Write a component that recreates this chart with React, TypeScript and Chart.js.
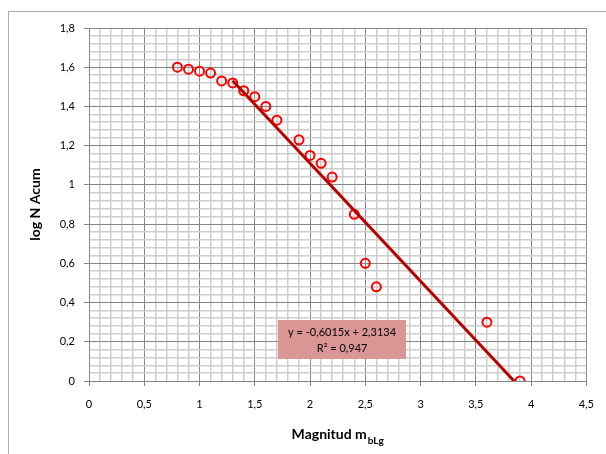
import React, { useEffect, useRef } from "react";
import { Chart, registerables } from "chart.js";

Chart.register(...registerables);

// ---- data ----
const MAGNITUDE = [0.8, 0.9, 1.0, 1.1, 1.2, 1.3, 1.4, 1.5, 1.6, 1.7, 1.9, 2.0, 2.1, 2.2, 2.4, 2.5, 2.6, 3.6, 3.9];
const LOG_N_ACUM = [1.6, 1.59, 1.58, 1.57, 1.53, 1.52, 1.48, 1.45, 1.4, 1.33, 1.23, 1.15, 1.11, 1.04, 0.85, 0.6, 0.48, 0.3, 0.0];

const TREND_SLOPE = -0.6015;
const TREND_INTERCEPT = 2.3134;
const TREND_FROM = 1.3;
const TREND_TO = 3.9;
const TREND_LABEL_LINES = ["y = -0,6015x + 2,3134", "R² = 0,947"];
const TREND_LABEL_AT = { x: 2.29, y: 0.21 };

const X_MAJOR_TICKS = [0, 0.5, 1, 1.5, 2, 2.5, 3, 3.5, 4, 4.5];
const X_TICK_LABELS = ["0", "0,5", "1", "1,5", "2", "2,5", "3", "3,5", "4", "4,5"];
const Y_MAJOR_TICKS = [0, 0.2, 0.4, 0.6, 0.8, 1, 1.2, 1.4, 1.6, 1.8];
const Y_TICK_LABELS = ["0", "0,2", "0,4", "0,6", "0,8", "1", "1,2", "1,4", "1,6", "1,8"];
const X_MINOR_STEP = 0.1;
const Y_MINOR_STEP = 0.04;

const X_TITLE = "Magnitud m";
const X_TITLE_SUB = "bLg";
const Y_TITLE = "log N Acum";

const FONT = "Lato, 'Liberation Sans', sans-serif";
const MAJOR_GRID = "#878787";
const MINOR_GRID = "#cdcdcd";

function majorIndex(v: number, majors: number[]) {
  return majors.findIndex((m) => Math.abs(m - v) < 1e-6);
}

function buildTicks(min: number, max: number, step: number) {
  const n = Math.round((max - min) / step);
  const out: { value: number }[] = [];
  for (let k = 0; k <= n; k++) out.push({ value: +(min + k * step).toFixed(6) });
  return out;
}

const framePlugin = {
  id: "frame",
  beforeDraw(chart: any) {
    const ctx = chart.ctx;
    ctx.save();
    ctx.strokeStyle = "#ababab";
    ctx.lineWidth = 1;
    ctx.strokeRect(8.5, 11.5, 800, 600);
    ctx.restore();
  },
  afterDraw(chart: any) {
    const ctx = chart.ctx;
    const area = chart.chartArea;
    const xs = chart.scales.x;
    const ys = chart.scales.y;
    ctx.save();
    // trendline label box
    const cx = xs.getPixelForValue(TREND_LABEL_AT.x);
    const cy = ys.getPixelForValue(TREND_LABEL_AT.y);
    const bw = 128;
    const bh = 39;
    ctx.fillStyle = "#da9694";
    ctx.fillRect(Math.round(cx - bw / 2), Math.round(cy - bh / 2), bw, bh);
    ctx.fillStyle = "#000000";
    ctx.font = `11px ${FONT}`;
    ctx.textAlign = "center";
    ctx.textBaseline = "middle";
    ctx.fillText(TREND_LABEL_LINES[0], cx, cy - 7);
    ctx.fillText(TREND_LABEL_LINES[1], cx, cy + 9);

    // y title
    ctx.save();
    ctx.translate(35, (area.top + area.bottom) / 2);
    ctx.rotate(-Math.PI / 2);
    ctx.font = `bold 14px ${FONT}`;
    ctx.textAlign = "center";
    ctx.textBaseline = "middle";
    ctx.fillText(Y_TITLE, 0, 0);
    ctx.restore();

    // x title with subscript
    const mainFont = `bold 14px ${FONT}`;
    const subFont = `bold 10px ${FONT}`;
    ctx.font = mainFont;
    const w1 = ctx.measureText(X_TITLE).width;
    ctx.font = subFont;
    const w2 = ctx.measureText(X_TITLE_SUB).width;
    const total = w1 + w2 + 1;
    const startX = (area.left + area.right) / 2 - total / 2;
    const baseY = 439;
    ctx.textAlign = "left";
    ctx.textBaseline = "alphabetic";
    ctx.font = mainFont;
    ctx.fillText(X_TITLE, startX, baseY);
    ctx.font = subFont;
    ctx.fillText(X_TITLE_SUB, startX + w1 + 1, baseY + 5);
    ctx.restore();
  },
};

export default function App() {
  const ref = useRef<HTMLCanvasElement | null>(null);

  useEffect(() => {
    if (!ref.current) return;
    const points = MAGNITUDE.map((x, i) => ({ x, y: LOG_N_ACUM[i] }));
    const trend = [TREND_FROM, TREND_TO].map((x) => ({ x, y: TREND_SLOPE * x + TREND_INTERCEPT }));

    const isMajor = (c: any, majors: number[]) => majorIndex(c.tick?.value, majors) >= 0;

    const chart = new Chart(ref.current, {
      type: "scatter",
      data: {
        datasets: [
          {
            label: "trend",
            data: trend,
            showLine: true,
            borderColor: "#b80000",
            borderWidth: 3,
            pointRadius: 0,
            fill: false,
            order: 0,
          },
          {
            label: "log N Acum",
            data: points,
            pointStyle: "circle",
            pointRadius: 4.5,
            pointBorderWidth: 2,
            borderColor: "#ff0000",
            backgroundColor: "rgba(0,0,0,0)",
            order: 1,
          },
        ],
      },
      options: {
        responsive: false,
        animation: false,
        layout: { padding: { top: 28, right: 15, left: 0, bottom: 0 } },
        plugins: { legend: { display: false }, tooltip: { enabled: false } },
        scales: {
          x: {
            type: "linear",
            min: 0,
            max: 4.5,
            afterBuildTicks: (s: any) => {
              s.ticks = buildTicks(0, 4.5, X_MINOR_STEP);
            },
            afterFit: (s: any) => {
              s.height = 73;
            },
            grid: {
              color: (c: any) => (isMajor(c, X_MAJOR_TICKS) ? MAJOR_GRID : MINOR_GRID),
              tickColor: (c: any) => (isMajor(c, X_MAJOR_TICKS) ? MAJOR_GRID : "rgba(0,0,0,0)"),
              lineWidth: (c: any) => (isMajor(c, X_MAJOR_TICKS) ? 1 : 1.5),
              tickLength: 5,
            },
            border: { color: MAJOR_GRID, width: 1 },
            ticks: {
              autoSkip: false,
              maxRotation: 0,
              padding: 12,
              color: "#000000",
              font: { family: FONT, size: 11 },
              callback: (v: any) => {
                const i = majorIndex(Number(v), X_MAJOR_TICKS);
                return i >= 0 ? X_TICK_LABELS[i] : "";
              },
            },
          },
          y: {
            type: "linear",
            min: 0,
            max: 1.8,
            afterBuildTicks: (s: any) => {
              s.ticks = buildTicks(0, 1.8, Y_MINOR_STEP);
            },
            afterFit: (s: any) => {
              s.width = 89;
            },
            grid: {
              color: (c: any) => (isMajor(c, Y_MAJOR_TICKS) ? MAJOR_GRID : MINOR_GRID),
              tickColor: (c: any) => (isMajor(c, Y_MAJOR_TICKS) ? MAJOR_GRID : "rgba(0,0,0,0)"),
              lineWidth: (c: any) => (isMajor(c, Y_MAJOR_TICKS) ? 1 : 1.5),
              tickLength: 5,
            },
            border: { color: MAJOR_GRID, width: 1 },
            ticks: {
              autoSkip: false,
              padding: 9,
              color: "#000000",
              font: { family: FONT, size: 11 },
              callback: (v: any) => {
                const i = majorIndex(Number(v), Y_MAJOR_TICKS);
                return i >= 0 ? Y_TICK_LABELS[i] : "";
              },
            },
          },
        },
      },
      plugins: [framePlugin],
    });
    return () => chart.destroy();
  }, []);

  return (
    <div style={{ position: "absolute", left: 0, top: 0, width: 606, height: 454, background: "#ffffff" }}>
      <canvas ref={ref} width={606} height={454} style={{ display: "block" }} />
    </div>
  );
}
